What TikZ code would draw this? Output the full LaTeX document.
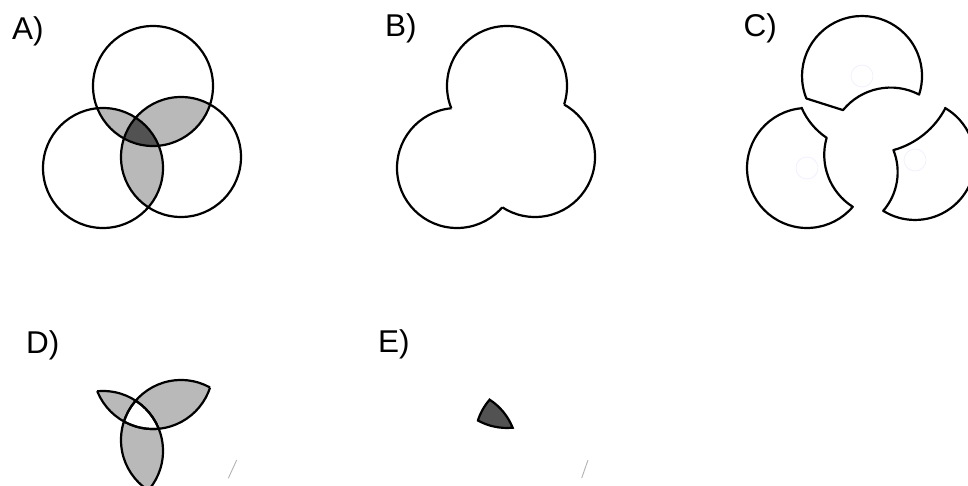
\documentclass[tikz,border=0pt]{standalone}
\usepackage{fontspec}
\setmainfont{Liberation Sans}

\newcommand{\ringT}{(153,86) circle[radius=60]}
\newcommand{\ringL}{(103,168) circle[radius=60]}
\newcommand{\ringR}{(181,157) circle[radius=60]}
\newcommand{\coreTLR}{(123.9,138.5) arc[start angle=118.9, end angle=84.5, radius=60]
    arc[start angle=-21.8, end angle=-57, radius=60]
    arc[start angle=-139.1, end angle=-162, radius=60] -- cycle}

\begin{document}
\begin{tikzpicture}[
    x=1pt, y=-1pt,
    outline/.style={draw=black, line width=2.2pt},
    pairfill/.style={fill=gray!55},
    corefill/.style={fill=black!68},
    panel/.style={font=\fontsize{31.5}{36}\selectfont, anchor=base west, inner sep=0pt},
    ghost/.style={draw=blue!6, line width=0.8pt},
    speck/.style={draw=gray!60, line width=0.9pt}
]
\useasboundingbox (0,0) rectangle (968,486);
\clip (0,0) rectangle (968,486);

\node[panel] (labA) at (12,39.4) {A)};
\node[panel] (labB) at (385,37) {B)};
\node[panel] (labC) at (743.5,37) {C)};
\node[panel] (labD) at (26,353.5) {D)};
\node[panel] (labE) at (378,352.7) {E)};

% A: three sets, pairwise overlaps shaded
\begin{scope}
    \clip \ringT; \fill[pairfill] \ringL; \fill[pairfill] \ringR;
\end{scope}
\begin{scope}
    \clip \ringL; \fill[pairfill] \ringR;
\end{scope}
\fill[corefill] \coreTLR;
\draw[outline] \ringT \ringL \ringR;

% B: outline of the union
\begin{scope}[shift={(354,0)}]
    \begin{scope}[even odd rule]
        \clip (-100,-100) rectangle (400,400) \ringL;
        \clip (-100,-100) rectangle (400,400) \ringR;
        \draw[outline] \ringT;
    \end{scope}
    \begin{scope}[even odd rule]
        \clip (-100,-100) rectangle (400,400) \ringT;
        \clip (-100,-100) rectangle (400,400) \ringR;
        \draw[outline] \ringL;
    \end{scope}
    \begin{scope}[even odd rule]
        \clip (-100,-100) rectangle (400,400) \ringT;
        \clip (-100,-100) rectangle (400,400) \ringL;
        \draw[outline] \ringR;
    \end{scope}
\end{scope}

% C: cut pieces
\begin{scope}[line join=round]
    \draw[outline] (806.4,98.5) arc[start angle=158, end angle=378, radius=60]
        arc[start angle=-62.4, end angle=-140.7, radius=61.5] -- cycle;
    \draw[outline] (802,108.2) arc[start angle=265.2, end angle=40.3, radius=60]
        arc[start angle=122.4, end angle=196.1, radius=61.5]
        arc[start angle=123.9, end angle=156.4, radius=69.9] -- cycle;
    \draw[outline] (945,108) arc[start angle=-60, end angle=122, radius=60]
        arc[start angle=40.9, end angle=-21.8, radius=59.2]
        arc[start angle=74.6, end angle=27.5, radius=83.7] -- cycle;
\end{scope}
\draw[ghost] (862,76) circle[radius=11];
\draw[ghost] (807,168) circle[radius=11];
\draw[ghost] (915,160) circle[radius=11];

% D: overlaps of exactly two sets
\begin{scope}[shift={(0,283)}]
    \begin{scope}
        \clip \ringT; \fill[pairfill] \ringL; \fill[pairfill] \ringR;
    \end{scope}
    \begin{scope}
        \clip \ringL; \fill[pairfill] \ringR;
    \end{scope}
    \fill[white] \coreTLR;
    \begin{scope}
        \clip \ringL; \draw[outline] \ringT \ringR;
    \end{scope}
    \begin{scope}
        \clip \ringT; \draw[outline] \ringL \ringR;
    \end{scope}
    \begin{scope}
        \clip \ringR; \draw[outline] \ringT \ringL;
    \end{scope}
\end{scope}
\draw[speck] (236.7,460) -- (228.3,478.3);

% E: overlap of all three
\begin{scope}[shift={(354,282)}]
    \filldraw[corefill, outline] \coreTLR;
\end{scope}
\draw[speck] (588,460) -- (581.7,478);
\end{tikzpicture}
\end{document}
